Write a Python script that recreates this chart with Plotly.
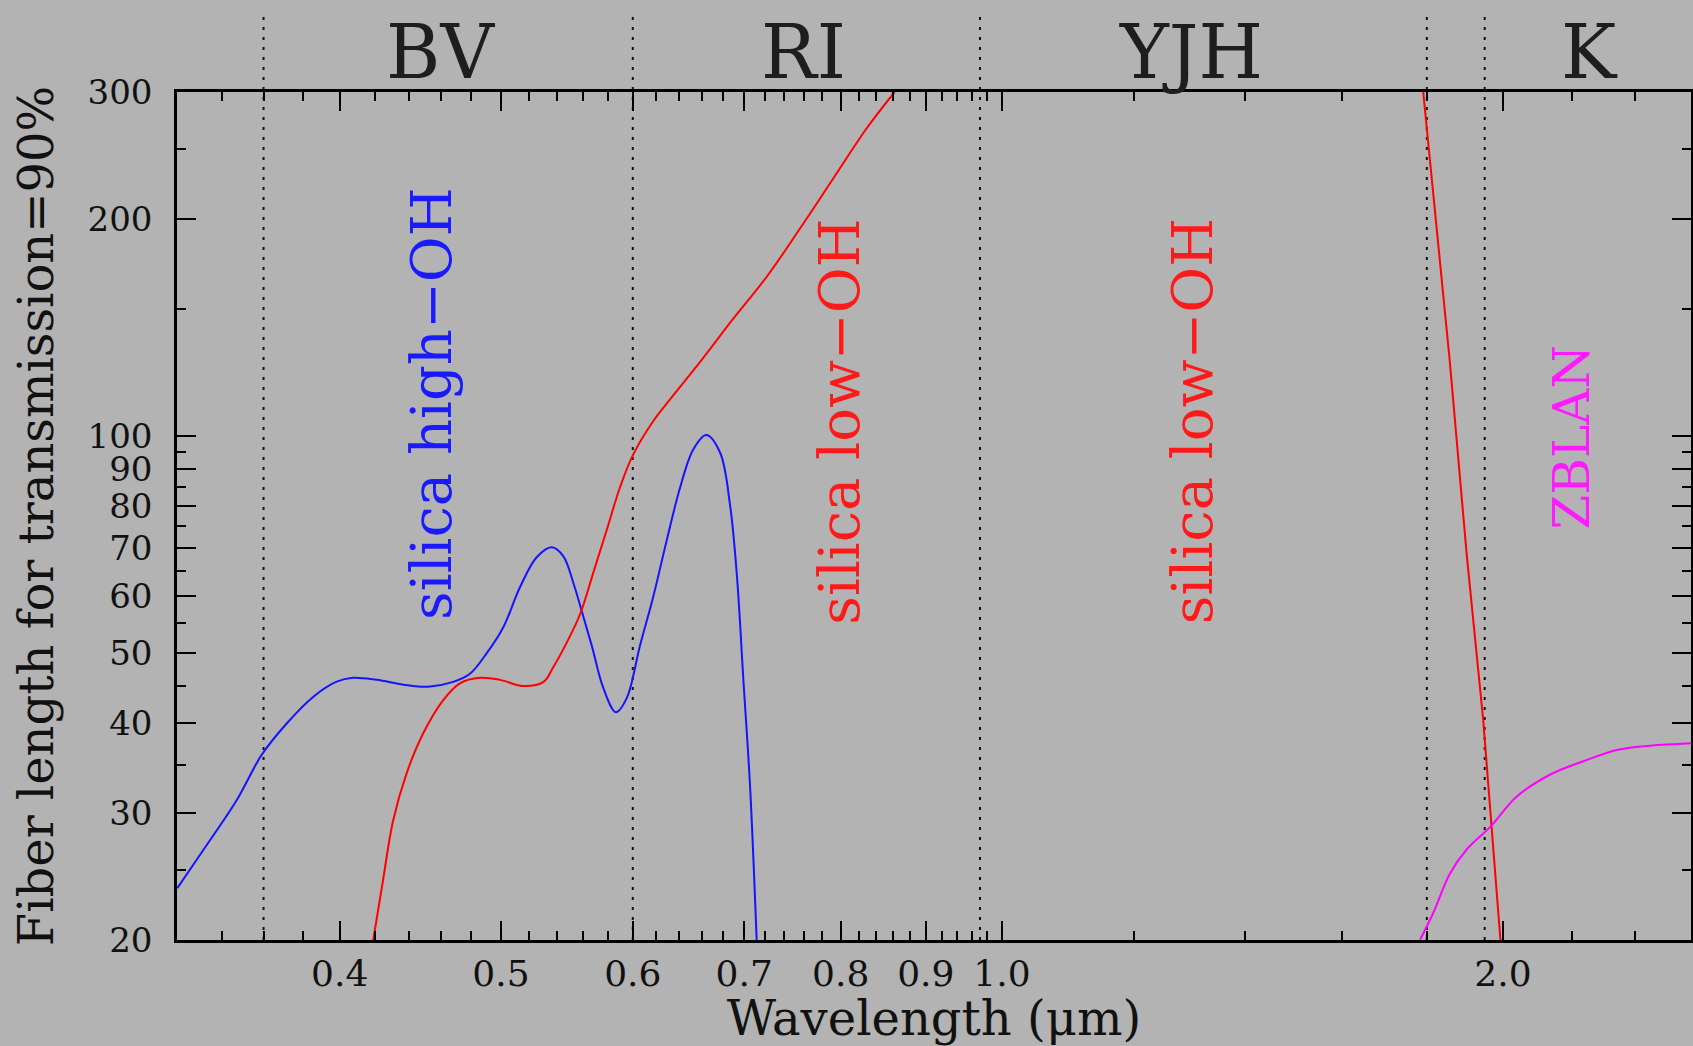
import numpy as np
import plotly.graph_objects as go

# ---------------- data ----------------
blue_wl = [0.3195, 0.331, 0.347, 0.359, 0.3716, 0.3857, 0.398, 0.4075, 0.421, 0.437,
           0.452, 0.468, 0.479, 0.490, 0.5016, 0.5133, 0.5253, 0.5364, 0.5451, 0.5526,
           0.5591, 0.5669, 0.5761, 0.5862, 0.5950, 0.6060, 0.6173, 0.6288, 0.6405, 0.6524,
           0.6643, 0.6771, 0.6865, 0.6930, 0.6993, 0.7057, 0.7122]
blue_len = [23.6, 26.6, 31.3, 36.1, 39.9, 43.5, 45.6, 46.2, 45.9, 45.2,
            44.9, 45.6, 46.8, 49.9, 54.3, 61.7, 67.9, 70.1, 68.1, 62.6,
            57.2, 51.2, 44.7, 41.4, 43.3, 51.2, 59.9, 71.6, 84.7, 95.8,
            100.3, 94.8, 80.1, 64.0, 45.7, 32.7, 20.0]

red1_wl = [0.419, 0.4247, 0.4307, 0.4387, 0.4490, 0.4615, 0.4724, 0.4858, 0.4994, 0.5158,
           0.5303, 0.5375, 0.5476, 0.5578, 0.5682, 0.5787, 0.5893, 0.600, 0.6173, 0.630,
           0.6586, 0.6897, 0.7222, 0.7562, 0.7918, 0.8291, 0.862]
red1_len = [20.0, 24.2, 29.3, 34.0, 38.7, 43.0, 45.4, 46.2, 45.9, 45.0,
            45.6, 47.8, 51.7, 56.6, 64.7, 74.0, 84.7, 94.0, 104.9, 111.5,
            126.7, 145.6, 166.3, 194.0, 227.6, 267.0, 300.0]

red2_wl = [1.791, 1.816, 1.858, 1.902, 1.946, 1.993]
red2_len = [300.0, 215.7, 127.1, 68.6, 40.4, 20.0]

zblan_wl = [1.783, 1.816, 1.858, 1.902, 1.965, 2.038, 2.134, 2.236, 2.341, 2.451, 2.597]
zblan_len = [20.0, 21.8, 24.7, 26.7, 28.7, 31.6, 33.9, 35.4, 36.7, 37.2, 37.5]

band_edges = [0.36, 0.6, 0.97, 1.8, 1.95]
band_names = ["BV", "RI", "YJH", "K"]
band_label_wl = [0.4596, 0.7597, 1.2986, 2.2546]

curve_labels = ["silica high\u2212OH", "silica low\u2212OH", "silica low\u2212OH", "ZBLAN"]
curve_label_wl = [0.4541, 0.7993, 1.3016, 2.199]
curve_label_len = [110.9, 104.7, 104.7, 99.7]
curve_label_colors = ["#1a1aff", "#ff1a1a", "#ff1a1a", "#ff1aff"]
curve_label_sizes = [56, 56, 56, 50]

x_tickvals = [0.4, 0.5, 0.6, 0.7, 0.8, 0.9, 1.0, 2.0]
x_ticktext = ["0.4", "0.5", "0.6", "0.7", "0.8", "0.9", "1.0", "2.0"]
x_minor = [0.34, 0.36, 0.38, 0.42, 0.44, 0.46, 0.48, 0.52, 0.54, 0.56, 0.58,
           0.62, 0.64, 0.66, 0.68, 0.72, 0.74, 0.76, 0.78, 0.82, 0.84, 0.86, 0.88,
           0.92, 0.94, 0.96, 0.98, 1.2, 1.4, 1.6, 1.8, 2.2, 2.4]
y_tickvals = [20, 30, 40, 50, 60, 70, 80, 90, 100, 200, 300]
y_ticktext = [str(v) for v in y_tickvals]
y_minor = [25, 35, 45, 55, 65, 75, 85, 95, 150, 250]

x_range = [-0.4957, 0.414]
y_range = [np.log10(20), np.log10(300)]

# ---------------- figure ----------------
BG = "#b3b3b3"
FONT = "DejaVu Serif"

fig = go.Figure()
line_shape = dict(shape="spline", smoothing=1.0)
fig.add_trace(go.Scatter(x=blue_wl, y=blue_len, mode="lines",
                         line=dict(color="#1414ff", width=2, **line_shape)))
fig.add_trace(go.Scatter(x=red1_wl, y=red1_len, mode="lines",
                         line=dict(color="#ff0000", width=2, **line_shape)))
fig.add_trace(go.Scatter(x=red2_wl, y=red2_len, mode="lines",
                         line=dict(color="#ff0000", width=2)))
fig.add_trace(go.Scatter(x=zblan_wl, y=zblan_len, mode="lines",
                         line=dict(color="#ff00ff", width=2, **line_shape)))

for e in band_edges:
    fig.add_shape(type="line", xref="x", yref="paper", x0=e, x1=e, y0=0, y1=1.0967,
                  line=dict(color="#111111", width=2, dash="3px,7px"), layer="below")

for name, wl in zip(band_names, band_label_wl):
    fig.add_annotation(x=np.log10(wl), y=1.0466, xref="x", yref="paper", text=name,
                       showarrow=False, xanchor="center", yanchor="middle",
                       font=dict(family=FONT, size=74, color="#1e1e1e"))

for txt, wl, ln, col, sz in zip(curve_labels, curve_label_wl, curve_label_len,
                                curve_label_colors, curve_label_sizes):
    fig.add_annotation(x=np.log10(wl), y=np.log10(ln), xref="x", yref="y", text=txt,
                       showarrow=False, textangle=-90, xanchor="center", yanchor="middle",
                       font=dict(family=FONT, size=sz, color=col))

axis_common = dict(type="log", showgrid=False, zeroline=False, showline=True,
                   linecolor="black", linewidth=2.5, mirror="allticks",
                   ticks="inside", tickcolor="black", tickwidth=2, ticklen=19,
                   tickmode="array")

fig.update_xaxes(**axis_common, range=x_range, tickvals=x_tickvals, ticktext=x_ticktext,
                 tickfont=dict(family=FONT, size=36, color="#111111"),
                 minor=dict(tickmode="array", tickvals=x_minor, ticks="inside",
                            ticklen=9, tickwidth=2, tickcolor="black"),
                 ticklabelstandoff=0,
                 title=dict(text="Wavelength (\u03bcm)", standoff=24,
                            font=dict(family=FONT, size=48, color="#111111")))
fig.update_yaxes(**axis_common, range=y_range, tickvals=y_tickvals, ticktext=y_ticktext,
                 tickfont=dict(family=FONT, size=34, color="#111111"),
                 minor=dict(tickmode="array", tickvals=y_minor, ticks="inside",
                            ticklen=9, tickwidth=2, tickcolor="black"),
                 ticklabelstandoff=15,
                 title=dict(text="Fiber length for transmission=90%", standoff=19,
                            font=dict(family=FONT, size=48, color="#111111")))

fig.update_layout(width=1693, height=1046, showlegend=False,
                  paper_bgcolor=BG, plot_bgcolor=BG,
                  margin=dict(l=177, r=2, t=92, b=106, autoexpand=False),
                  font=dict(family=FONT, color="#111111"))

fig.write_html("out.html")
